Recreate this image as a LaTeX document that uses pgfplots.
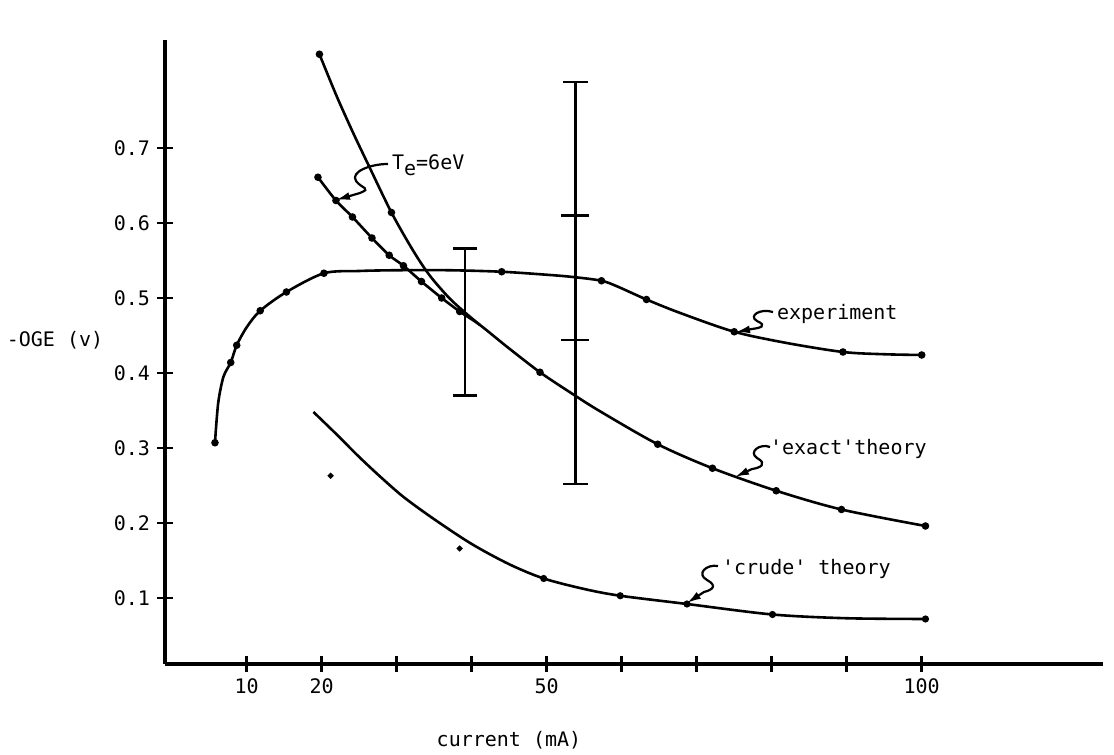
\documentclass[border=0pt]{standalone}
\usepackage{fontspec}
\setmainfont{DejaVu Sans Mono}
\usepackage{pgfplots}
\pgfplotsset{compat=1.18}
\usetikzlibrary{arrows.meta}

\begin{document}
\begin{tikzpicture}
\path[use as bounding box] (0,0) rectangle (557pt,377.5pt);
\begin{axis}[
  at={(82.5pt,45.5pt)}, anchor=south west,
  scale only axis, width=469pt, height=312pt,
  xmin=-0.893, xmax=124.17, ymin=0.012, ymax=0.844,
  axis x line=bottom, axis y line=left,
  axis line style={line width=1.7pt,-},
  every tick/.style={line width=1.3pt, black},
  tick align=center, major tick length=8pt,
  xtick={10,20,30,40,50,60,70,80,90,100},
  xticklabels={10,20,,,50,,,,,100},
  ytick={0.1,0.2,0.3,0.4,0.5,0.6,0.7},
  yticklabels={0.1,0.2,0.3,0.4,0.5,0.6,0.7},
  clip=false,
  xlabel={current (mA)},
  xlabel style={at={(axis description cs:0.3667,-0.1218)}, anchor=center},
  ylabel={-OGE (v)},
  ylabel style={at={(axis description cs:-0.1173,0.519)}, anchor=center, rotate=-90},
  every axis plot/.append style={line width=1.3pt, black},
]

% measured: experiment
\addplot[smooth, tension=0.5] coordinates {
  (5.77,0.307) (6.2,0.360) (6.9,0.395) (7.87,0.414) (8.67,0.437) (10,0.461)
  (11.8,0.483) (15.3,0.508) (20.3,0.533) (25,0.536) (30,0.537) (37,0.537)
  (44,0.535) (50,0.531) (53.5,0.528) (57.3,0.523) (59.5,0.515) (63.3,0.498)
  (67.8,0.480) (75,0.455) (82,0.440) (89.5,0.428) (95,0.425) (100,0.424)
};
\addplot[only marks, mark=*, mark size=1.2pt] coordinates {
  (5.77,0.307) (7.87,0.414) (8.67,0.437) (11.8,0.483) (15.3,0.508) (20.3,0.533)
  (44,0.535) (57.3,0.523) (63.3,0.498) (75,0.455) (89.5,0.428) (100,0.424)
};

% 'exact' theory
\addplot[smooth, tension=0.5] coordinates {
  (19.5,0.661) (21.9,0.630) (24.1,0.608) (26.7,0.580) (29.0,0.557) (30.9,0.543)
  (33.3,0.522) (36.0,0.500) (38.4,0.482) (41.1,0.464) (44.7,0.435) (49.1,0.401)
  (53.3,0.373) (57.1,0.349) (64.8,0.305) (72.1,0.273) (80.6,0.243) (89.3,0.218)
  (100.5,0.196)
};
\addplot[only marks, mark=*, mark size=1.2pt] coordinates {
  (19.5,0.661) (21.9,0.630) (24.1,0.608) (26.7,0.580) (29.0,0.557) (30.9,0.543)
  (33.3,0.522) (36.0,0.500) (38.4,0.482) (49.1,0.401) (64.8,0.305) (72.1,0.273)
  (80.6,0.243) (89.3,0.218) (100.5,0.196)
};

% T_e = 6 eV
\addplot[smooth, tension=0.5] coordinates {
  (19.7,0.825) (22.0,0.769) (24.2,0.720) (26.2,0.678) (29.3,0.614) (32.2,0.563)
  (34.4,0.530) (37.0,0.500) (39.3,0.479) (41.1,0.464)
};
\addplot[only marks, mark=*, mark size=1.2pt] coordinates {
  (19.7,0.825) (29.3,0.614)
};

% 'crude' theory
\addplot[smooth, tension=0.5] coordinates {
  (18.9,0.348) (22,0.318) (25,0.288) (28,0.260) (31,0.234) (35,0.205) (40,0.172)
  (45,0.145) (49.6,0.126) (55,0.112) (59.8,0.103) (68.7,0.092) (80.1,0.078)
  (90,0.073) (100.5,0.072)
};
\addplot[only marks, mark=*, mark size=1.1pt] coordinates {
  (49.6,0.126) (59.8,0.103) (68.7,0.092) (80.1,0.078) (100.5,0.072)
};
\addplot[only marks, mark=*, mark size=0.7pt] coordinates {
  (38.4,0.166) (21.2,0.263)
};

% error bars
\addplot[mark=-, mark size=6.2pt, mark options={line width=1.3pt}] coordinates {
  (39.1,0.370) (39.1,0.566)
};
\addplot[mark=-, mark size=6.2pt, mark options={line width=1.3pt}] coordinates {
  (53.8,0.252) (53.8,0.788)
};
\addplot[only marks, mark=-, mark size=7pt, mark options={line width=1.3pt}] coordinates {
  (53.8,0.444) (53.8,0.610)
};
\end{axis}

% labels with pointer squiggles (pixel grid, y downwards)
\begin{scope}[shift={(0,377.5pt)}, x=0.5pt, y=-0.5pt, line width=1.1pt]
  \node[anchor=base west, inner sep=0] at (391,170) {T\raisebox{-0.5ex}{e}=6eV};
  \draw[-{Latex[length=7pt,width=4pt]}] (388,164) .. controls (370,164) and (350,172) .. (356,181)
     .. controls (362,189) and (372,188) .. (360,193) -- (336,200);

  \node[anchor=base west, inner sep=0] at (776,320) {experiment};
  \draw[-{Latex[length=7pt,width=4pt]}] (773,312) .. controls (760,308) and (748,316) .. (757,321)
     .. controls (768,326) and (760,328) .. (752,329) -- (736,332);

  \node[anchor=base west, inner sep=0] at (769,455) {\textquotesingle exact\textquotesingle theory};
  \draw[-{Latex[length=7pt,width=4pt]}] (770,447) .. controls (760,443) and (748,452) .. (757,458)
     .. controls (768,464) and (760,468) .. (752,469) -- (735,477);

  \node[anchor=base west, inner sep=0] at (721,575) {\textquotesingle crude\textquotesingle{} theory};
  \draw[-{Latex[length=7pt,width=4pt]}] (718,566) .. controls (706,564) and (696,574) .. (707,580)
     .. controls (718,586) and (712,590) .. (704,592) -- (687,603);
\end{scope}
\end{tikzpicture}
\end{document}
